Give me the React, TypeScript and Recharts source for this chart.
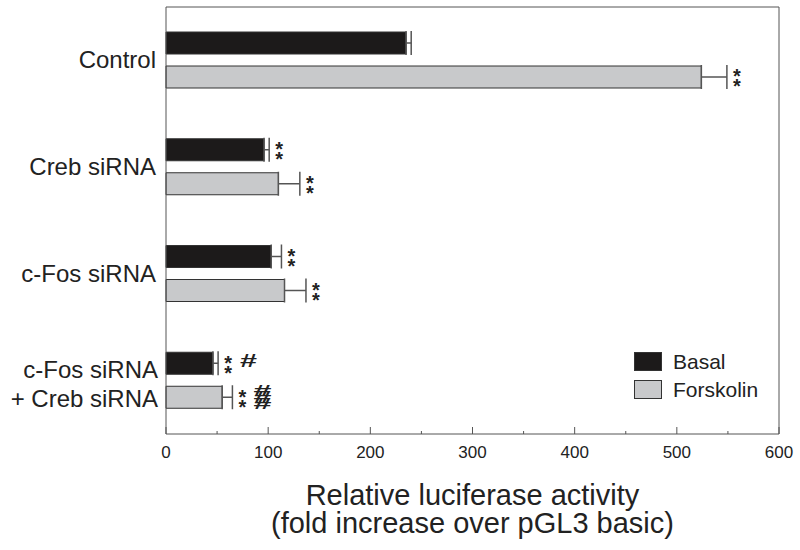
import { BarChart, Bar, XAxis, YAxis, ErrorBar, LabelList, Label } from 'recharts'

const categories = ['Control', 'Creb siRNA', 'c-Fos siRNA', 'c-Fos siRNA|+ Creb siRNA']
const basal = [235, 96, 103, 46]
const basalErr = [5, 5, 10, 5]
const forskolin = [524, 110, 116, 55]
const forskolinErr = [25, 21, 21, 10]
const basalStars = ['', '**', '**', '**']
const forskolinStars = ['**', '**', '**', '**']
const basalHash = ['', '', '', '#']
const forskolinHash = ['', '', '', '###']
const xTicks = [0, 50, 100, 150, 200, 250, 300, 350, 400, 450, 500, 550, 600]

const data = categories.map((name, i) => ({
  name,
  basal: basal[i],
  basalErr: [0, basalErr[i]],
  forskolin: forskolin[i],
  forskolinErr: [0, forskolinErr[i]],
}))

const FONT = "'Liberation Sans', Arial, sans-serif"
const AXIS = '#555'

// bottom axis: inward ticks, labels only on hundreds
const XTick = (props: any) => {
  const { x, y, payload } = props
  const major = payload.value % 100 === 0
  return (
    <g>
      <line x1={x} x2={x} y1={y} y2={y - (major ? 7 : 3)} stroke={AXIS} />
      {major && (
        <text x={x} y={y + 24} textAnchor="middle" fontSize={17} fill="#222" fontFamily={FONT}>
          {payload.value}
        </text>
      )}
    </g>
  )
}

// top axis: inward ticks, no labels
const TopTick = (props: any) => {
  const { x, y, payload } = props
  const major = payload.value % 100 === 0
  return <line x1={x} x2={x} y1={y} y2={y + (major ? 7 : 4)} stroke={AXIS} />
}

const YTick = (props: any) => {
  const { x, y, payload } = props
  const lines = String(payload.value).split('|')
  if (lines.length === 1) {
    return (
      <text x={x - 10} y={y + 8} textAnchor="end" fontSize={24} fill="#222" fontFamily={FONT}>
        {lines[0]}
      </text>
    )
  }
  return (
    <text x={x - 8} y={y - 3} textAnchor="end" fontSize={24} fill="#222" fontFamily={FONT}>
      <tspan x={x - 8} dy={0}>{lines[0]}</tspan>
      <tspan x={x - 8} dy={29}>{lines[1]}</tspan>
    </text>
  )
}

const makeAnnot = (vals: number[], errs: number[], stars: string[], hashes: string[]) => (props: any) => {
  const vb = props.viewBox || {}
  const x = Number(props.x ?? vb.x)
  const y = Number(props.y ?? vb.y)
  const width = Number(props.width ?? vb.width)
  const height = Number(props.height ?? vb.height)
  const i = props.index
  if (!stars[i]) return null
  const errEnd = x + (width * (vals[i] + errs[i])) / vals[i]
  const sx = errEnd + 10
  const cy = y + height / 2
  const hash = hashes[i]
  return (
    <g fontFamily={FONT} fill="#222">
      <text x={sx} y={cy - 5 + 11.4} textAnchor="middle" fontSize={20} fontWeight="bold">*</text>
      <text x={sx} y={cy + 5 + 11.4} textAnchor="middle" fontSize={20} fontWeight="bold">*</text>
      {hash.length === 1 && (
        <text x={sx + 12} y={cy - 3 + 6.3} fontSize={18} fontWeight="bold" textLength={17} lengthAdjust="spacingAndGlyphs">#</text>
      )}
      {hash.length === 3 &&
        [-7, 0, 7].map((d, k) => (
          <text key={k} x={sx + 11} y={cy + d + 5} fontSize={14} fontWeight="bold" textLength={18} lengthAdjust="spacingAndGlyphs">#</text>
        ))}
    </g>
  )
}

const XTitle = (props: any) => {
  const vb = props.viewBox || {}
  const cx = vb.x + vb.width / 2
  return (
    <text x={cx} textAnchor="middle" fontSize={29} fill="#222" fontFamily={FONT}>
      <tspan x={cx} y={vb.y + 71}>Relative luciferase activity</tspan>
      <tspan x={cx} y={vb.y + 99}>(fold increase over pGL3 basic)</tspan>
    </text>
  )
}

const legendItems = [
  { label: 'Basal', fill: '#1c1a1a', top: 352 },
  { label: 'Forskolin', fill: '#c8c9cb', top: 380 },
]

export default function App() {
  return (
    <div style={{ position: 'absolute', left: 0, top: 0, width: 800, height: 550, background: '#fff' }}>
      <BarChart
        width={800}
        height={550}
        data={data}
        layout="vertical"
        margin={{ top: 0, right: 20, left: 0, bottom: 0 }}
        barSize={22}
        barGap={12}
      >
        <XAxis
          type="number"
          domain={[0, 600]}
          ticks={xTicks}
          interval={0}
          height={116}
          stroke={AXIS}
          tickLine={false}
          tickSize={0}
          tickMargin={0}
          tick={<XTick />}
        >
          <Label content={<XTitle />} />
        </XAxis>
        <XAxis
          xAxisId="top"
          orientation="top"
          type="number"
          domain={[0, 600]}
          ticks={xTicks}
          interval={0}
          height={7}
          stroke={AXIS}
          tickLine={false}
          tickSize={0}
          tickMargin={0}
          tick={<TopTick />}
        />
        <YAxis
          type="category"
          dataKey="name"
          width={166}
          stroke={AXIS}
          tickLine={false}
          tickSize={0}
          tickMargin={0}
          tick={<YTick />}
          interval={0}
        />
        <YAxis yAxisId="right" orientation="right" type="category" dataKey="name" width={1} stroke={AXIS} tick={false} tickLine={false} />
        <Bar dataKey="basal" fill="#1c1a1a" stroke="#333" isAnimationActive={false}>
          <ErrorBar dataKey="basalErr" direction="x" width={12} stroke={AXIS} strokeWidth={1.5} />
          <LabelList dataKey="name" content={makeAnnot(basal, basalErr, basalStars, basalHash)} />
        </Bar>
        <Bar dataKey="forskolin" fill="#c8c9cb" stroke="#333" isAnimationActive={false}>
          <ErrorBar dataKey="forskolinErr" direction="x" width={12} stroke={AXIS} strokeWidth={1.5} />
          <LabelList dataKey="name" content={makeAnnot(forskolin, forskolinErr, forskolinStars, forskolinHash)} />
        </Bar>
      </BarChart>
      {legendItems.map((it) => (
        <div key={it.label} style={{ position: 'absolute', left: 634, top: it.top, display: 'flex', alignItems: 'center', fontFamily: FONT, fontSize: 21, color: '#222' }}>
          <div style={{ width: 28, height: 19, background: it.fill, border: '1px solid #333', boxSizing: 'border-box' }} />
          <span style={{ marginLeft: 11, lineHeight: '19px' }}>{it.label}</span>
        </div>
      ))}
    </div>
  )
}
